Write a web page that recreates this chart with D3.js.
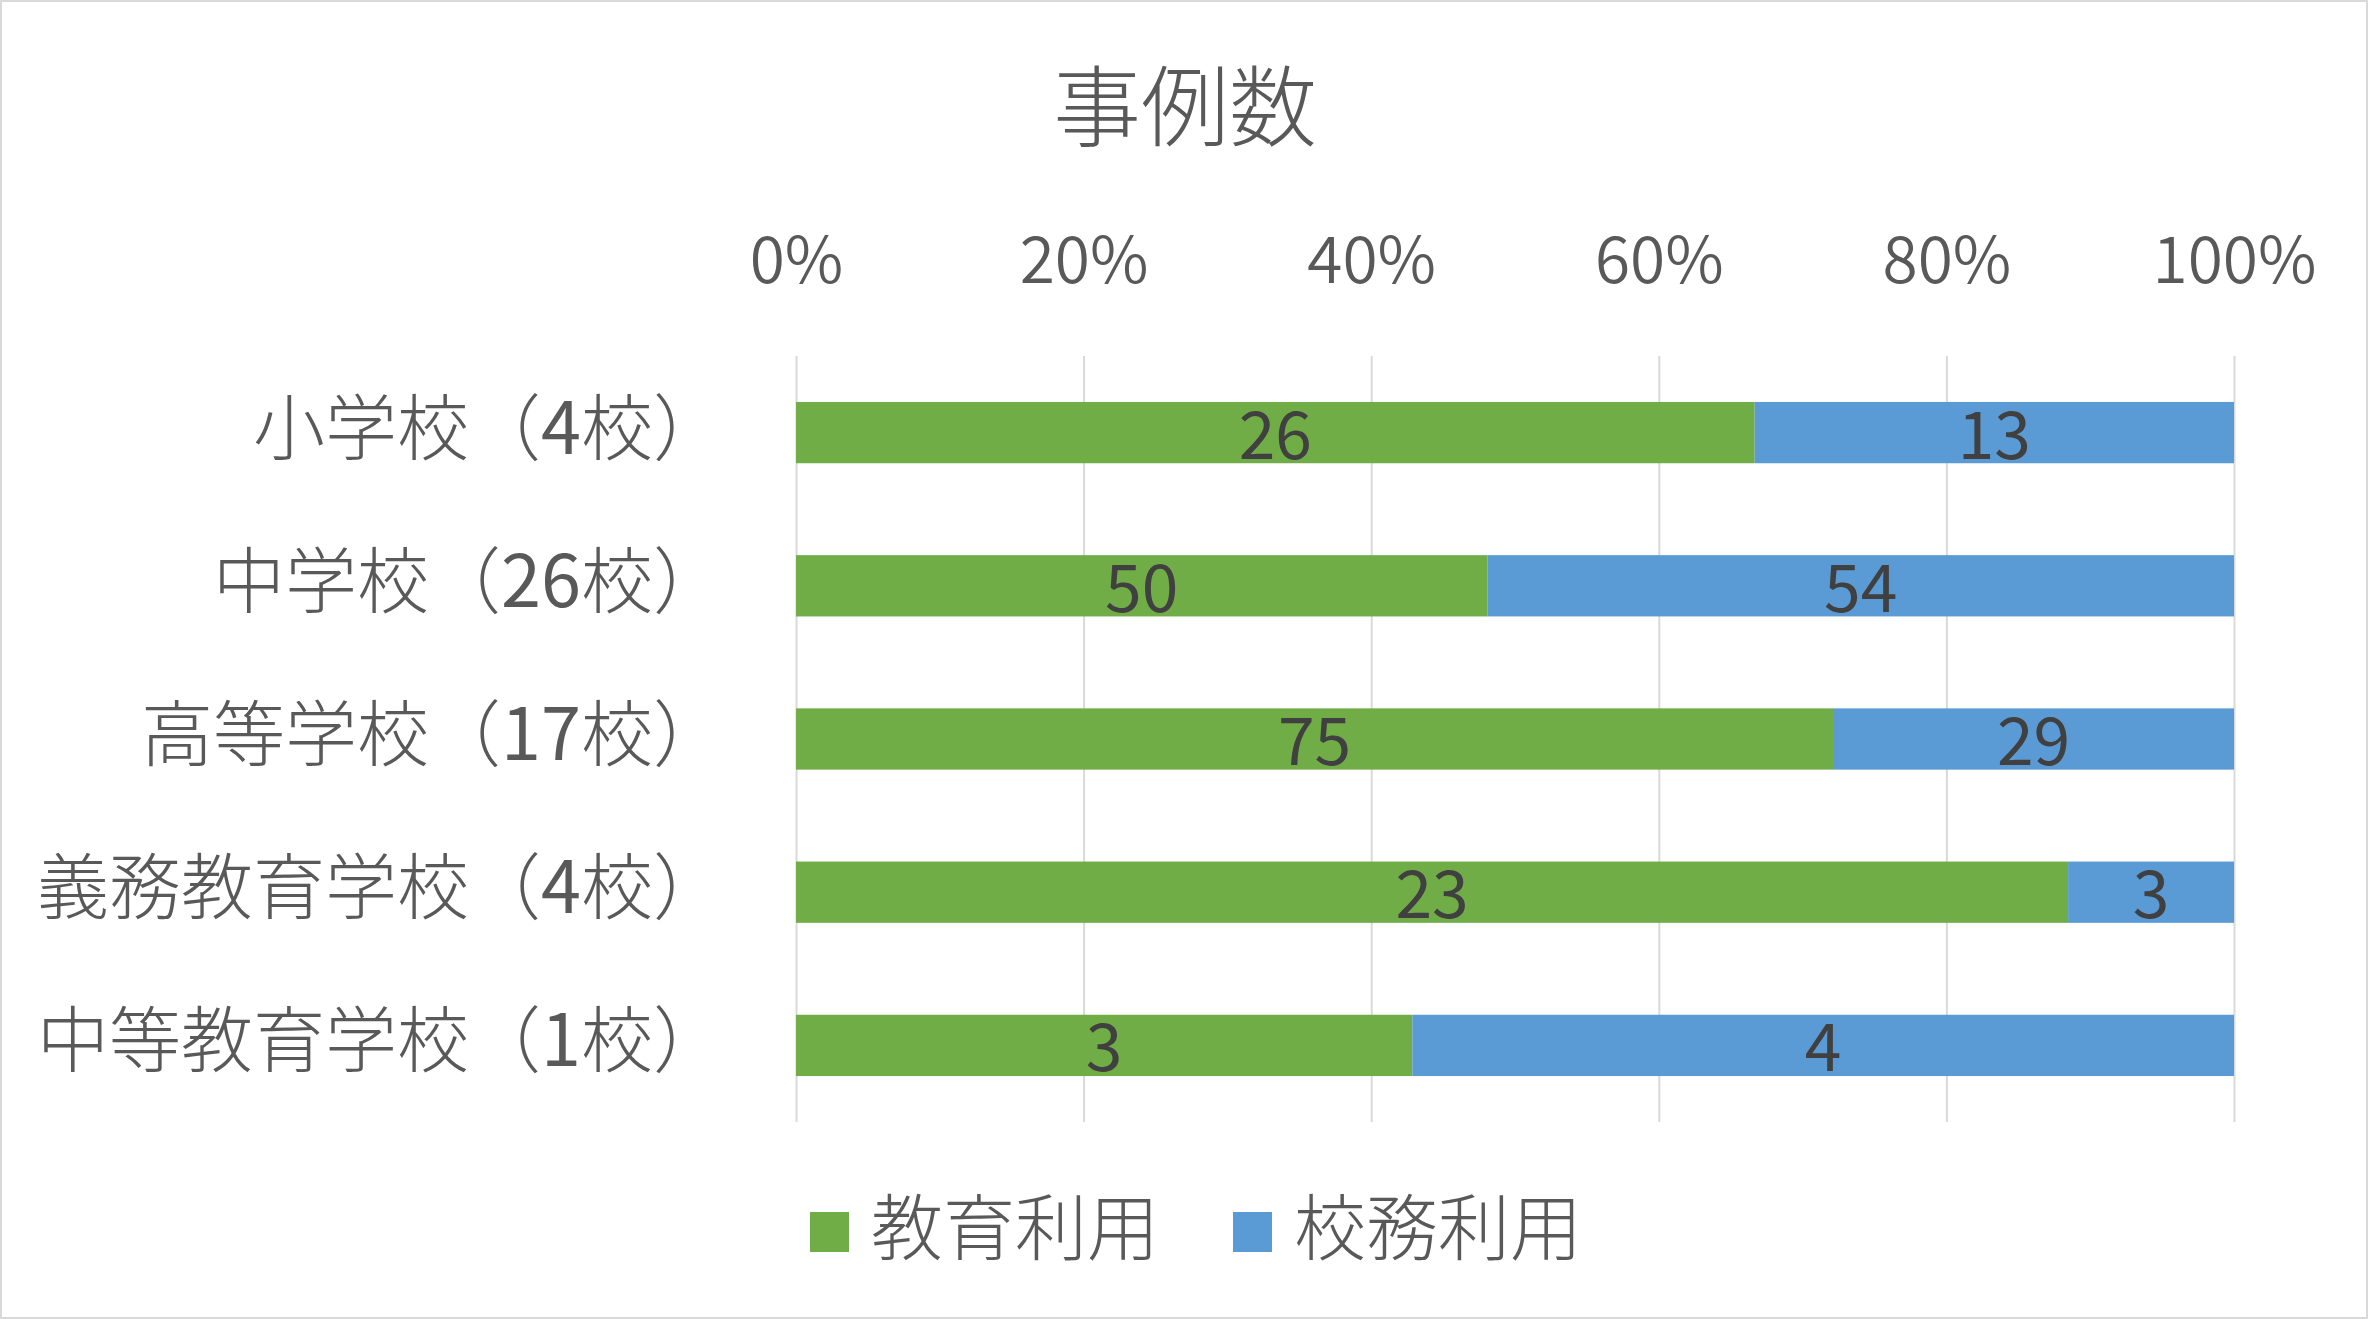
<!DOCTYPE html>
<html>
<head>
<meta charset="utf-8">
<script src="https://cdn.jsdelivr.net/npm/d3@7/dist/d3.min.js"></script>
<style>
  html, body { margin: 0; padding: 0; background: #fff; }
  svg { display: block; }
  text { font-family: "Noto Sans CJK JP", "Noto Sans", sans-serif; }
</style>
</head>
<body>
<svg id="chart" width="2368" height="1319"></svg>
<script>
const categories = ["小学校（4校）", "中学校（26校）", "高等学校（17校）", "義務教育学校（4校）", "中等教育学校（1校）"];
const educationUse = [26, 50, 75, 23, 3];
const adminUse = [13, 54, 29, 3, 4];
const seriesNames = ["教育利用", "校務利用"];
const seriesColors = ["#70AD47", "#5B9BD5"];
const tickValues = [0, 0.2, 0.4, 0.6, 0.8, 1.0];
const titleText = "事例数";

const W = 2368, H = 1319;
const svg = d3.select("#chart");

// chart border
svg.append("rect").attr("x", 1).attr("y", 1).attr("width", W - 2).attr("height", H - 2)
  .attr("fill", "#fff").attr("stroke", "#D9D9D9").attr("stroke-width", 2);

const plot = { left: 796, right: 2234, top: 356, bottom: 1122 };

const x = d3.scaleLinear().domain([0, 1]).range([plot.left, plot.right]);
const y = d3.scaleBand().domain(categories).range([plot.top, plot.bottom])
  .paddingInner(0.6).paddingOuter(0.3);

const table = categories.map((c, i) => ({ cat: c, [seriesNames[0]]: educationUse[i], [seriesNames[1]]: adminUse[i] }));
const stacked = d3.stack().keys(seriesNames).offset(d3.stackOffsetExpand)(table);

// gridlines
const grid = svg.append("g").attr("transform", `translate(0,${plot.top})`)
  .call(d3.axisBottom(x).tickValues(tickValues).tickSize(plot.bottom - plot.top).tickFormat(""));
grid.select(".domain").remove();
grid.selectAll("line").attr("stroke", "#D9D9D9").attr("stroke-width", 2);

// top axis labels
const ax = svg.append("g").attr("transform", `translate(0,283)`)
  .call(d3.axisTop(x).tickValues(tickValues).tickSize(0).tickPadding(0).tickFormat(d3.format(".0%")));
ax.select(".domain").remove();
ax.selectAll("text").attr("fill", "#595959").attr("dy", 0)
  .style("font-size", "64px")
  .style("font-family", '"Noto Sans CJK JP", sans-serif')
  .style("font-weight", 350);

// bars
const layers = svg.append("g").selectAll("g").data(stacked).join("g")
  .attr("fill", (d, i) => seriesColors[i]);
layers.selectAll("rect").data(d => d).join("rect")
  .attr("x", d => x(d[0]))
  .attr("width", d => x(d[1]) - x(d[0]))
  .attr("y", d => y(d.data.cat))
  .attr("height", y.bandwidth());

// data labels
stacked.forEach((layer, si) => {
  svg.append("g").selectAll("text").data(layer).join("text")
    .attr("x", d => (x(d[0]) + x(d[1])) / 2)
    .attr("y", d => y(d.data.cat) + y.bandwidth() / 2 + 26)
    .attr("text-anchor", "middle")
    .attr("fill", "#404040")
    .style("font-size", "66px")
    .style("font-weight", 400)
    .text(d => d.data[layer.key]);
});

// category labels (digits slightly heavier, as in the reference)
const catText = svg.append("g").selectAll("text").data(categories).join("text")
  .attr("x", 725)
  .attr("y", d => y(d) + y.bandwidth() / 2 - 11)
  .attr("dominant-baseline", "central")
  .attr("text-anchor", "end")
  .attr("fill", "#595959")
  .style("font-size", "72px")
  .style("font-weight", 300);
catText.each(function(d) {
  const parts = d.match(/\d+|\D+/g);
  const t = d3.select(this);
  parts.forEach(p => {
    t.append("tspan").style("font-weight", /\d/.test(p) ? 400 : 300).text(p);
  });
});

// title
svg.append("text").attr("x", 1185).attr("y", 100)
  .attr("text-anchor", "middle").attr("dominant-baseline", "central")
  .attr("fill", "#595959")
  .style("font-size", "88px").style("font-weight", 300)
  .text(titleText);

// legend
const legendX = [810, 1233];
const lg = svg.append("g").selectAll("g").data(seriesNames).join("g")
  .attr("transform", (d, i) => `translate(${legendX[i]},1212)`);
lg.append("rect").attr("width", 39).attr("height", 40).attr("fill", (d, i) => seriesColors[i]);
lg.append("text").attr("x", 61).attr("y", 10).attr("dominant-baseline", "central")
  .attr("fill", "#595959")
  .style("font-size", "72px").style("font-weight", 300)
  .text(d => d);
</script>
</body>
</html>
